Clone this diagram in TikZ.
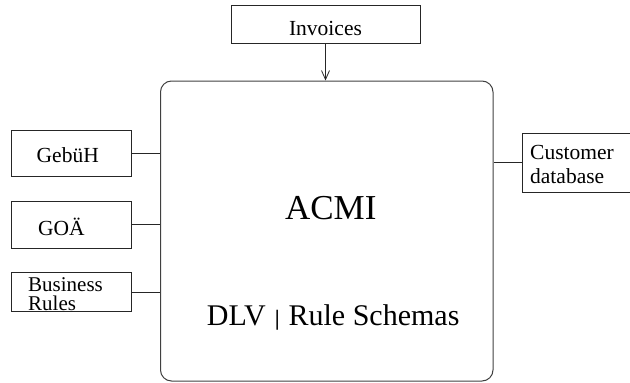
\documentclass[tikz,border=0pt]{standalone}
\usepackage{fontspec}
\setmainfont{Liberation Serif}
\usetikzlibrary{arrows.meta}
\begin{document}
\begin{tikzpicture}[x=1pt,y=-1pt,
  boxstyle/.style={draw=black!85, line width=0.8pt, rectangle, inner sep=0pt},
  mainbox/.style={draw=black!75, line width=1pt, rectangle, rounded corners=11pt, inner sep=0pt},
  conn/.style={draw=black!85, line width=0.8pt},
  lbl/.style={inner sep=0pt, font=\fontsize{21.5}{21.5}\selectfont}
]
\useasboundingbox (0,0) rectangle (630,383);

% main box
\node[mainbox, minimum width=332.5pt, minimum height=300pt] (acmi) at (326.75,231) {};

% boxes
\node[boxstyle, minimum width=189pt, minimum height=38pt] (inv) at (325.5,24) {};
\node[boxstyle, minimum width=120pt, minimum height=46.7pt] (geb) at (71.7,153.3) {};
\node[boxstyle, minimum width=120pt, minimum height=47.3pt] (goa) at (71.7,224.7) {};
\node[boxstyle, minimum width=120pt, minimum height=39.4pt] (bus) at (71.7,292) {};
\node[boxstyle, minimum width=118pt, minimum height=59pt] (cus) at (581,162.5) {};

% labels
\node[lbl, anchor=base] (tinv) at (325.5,35) {Invoices};
\node[lbl, anchor=base west] (tgeb) at (36.5,162.3) {GebüH};
\node[lbl, anchor=base west] (tgoa) at (38,235) {GOÄ};
\node[lbl, anchor=base west, align=left, font=\fontsize{21}{19.5}\selectfont] (tbus) at (28,310.5) {Business\\Rules};
\node[lbl, anchor=base west, align=left, font=\fontsize{21.5}{23.3}\selectfont] (tcus) at (530,183) {Customer\\database};
\node[inner sep=0pt, anchor=base, font=\fontsize{35}{35}\selectfont] (tacmi) at (330.8,219) {ACMI};
\node[inner sep=0pt, anchor=base west, font=\fontsize{30}{30}\selectfont] (tdlv) at (206.7,325)
  {DLV\hspace{9pt}{\fontsize{22}{22}\selectfont\textbf{|}}\hspace{9pt}Rule Schemas};

% connectors
\draw[conn] (geb.east) -- (geb.east -| acmi.west);
\draw[conn] (goa.east) -- (goa.east -| acmi.west);
\draw[conn] (bus.east) -- (bus.east -| acmi.west);
\draw[conn] (cus.west) -- (cus.west -| acmi.east);
\draw[conn, -{Straight Barb[length=9pt,width=8pt]}] (inv.south) -- (inv.south |- acmi.north);
\end{tikzpicture}
\end{document}
